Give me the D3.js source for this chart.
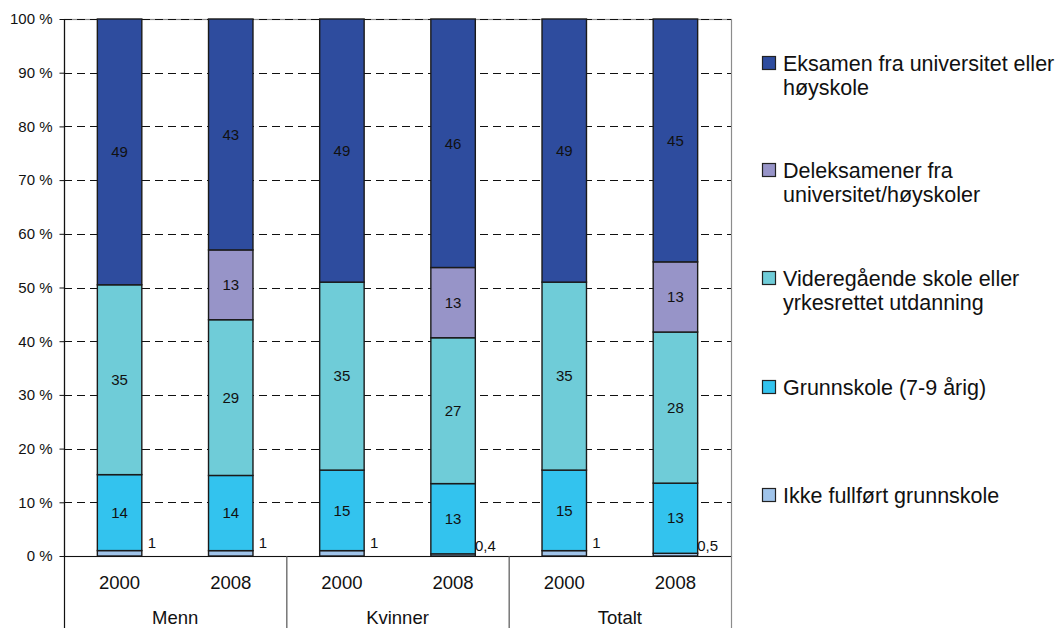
<!DOCTYPE html>
<html>
<head>
<meta charset="utf-8">
<script src="https://cdn.jsdelivr.net/npm/d3@7"></script>
<style>
  html, body { margin: 0; padding: 0; background: #fff; }
  svg { display: block; font-family: "Liberation Sans", Arial, sans-serif; }
</style>
</head>
<body>
<svg id="chart" width="1058" height="628"></svg>
<script>
// Groups and years along the category axis
const groups = ["Menn", "Kvinner", "Totalt"];
const years = ["2000", "2008"];

// Education level shares (per cent), one value per group/year bar
const ikkeFullfort  = [1, 1, 1, 0.4, 1, 0.5];
const grunnskole    = [14, 14, 15, 13, 15, 13];
const videregaende  = [35, 29, 35, 27, 35, 28];
const deleksamener  = [0, 13, 0, 13, 0, 13];
const eksamen       = [49, 43, 49, 46, 49, 45];

// Series names, stacking order bottom to top
const seriesNames = [
  "Ikke fullført grunnskole",
  "Grunnskole (7-9 årig)",
  "Videregående skole eller yrkesrettet utdanning",
  "Deleksamener fra universitet/høyskoler",
  "Eksamen fra universitet eller høyskole"
];
const legendLines = [
  ["Ikke fullført grunnskole"],
  ["Grunnskole (7-9 årig)"],
  ["Videregående skole eller", "yrkesrettet utdanning"],
  ["Deleksamener fra", "universitet/høyskoler"],
  ["Eksamen fra universitet eller", "høyskole"]
];
const seriesColors = ["#a0c4ea", "#33c3ee", "#6fccd8", "#9794c8", "#2e4c9e"];

const yTicks = [0, 10, 20, 30, 40, 50, 60, 70, 80, 90, 100];

const seriesValues = [ikkeFullfort, grunnskole, videregaende, deleksamener, eksamen];

// One row per bar
const rows = [];
groups.forEach((g, gi) => years.forEach((yr, yi) => {
  const i = gi * years.length + yi;
  const row = { key: g + "-" + yr, group: g, year: yr };
  seriesNames.forEach((s, si) => { row[s] = seriesValues[si][i]; });
  rows.push(row);
}));

const svg = d3.select("#chart");
const plot = { left: 64, right: 731, top: 19, bottom: 556 };

const x = d3.scaleBand()
  .domain(rows.map(d => d.key))
  .range([plot.left, plot.right])
  .paddingInner(0.6)
  .paddingOuter(0.3);

const y = d3.scaleLinear().domain([0, 1]).range([plot.bottom, plot.top]);

const stacked = d3.stack()
  .keys(seriesNames)
  .offset(d3.stackOffsetExpand)(rows);

// Plot frame
svg.append("rect")
  .attr("x", plot.left + 0.5).attr("y", plot.top + 0.5)
  .attr("width", plot.right - plot.left).attr("height", plot.bottom - plot.top)
  .attr("fill", "none").attr("stroke", "#8c8c8c").attr("stroke-width", 1.2);
svg.append("line")
  .attr("x1", plot.right + 0.5).attr("x2", plot.right + 0.5)
  .attr("y1", plot.bottom).attr("y2", 628)
  .attr("stroke", "#8c8c8c").attr("stroke-width", 1.2);

// Dashed gridlines
svg.append("g").selectAll("line")
  .data(yTicks.filter(t => t > 0))
  .join("line")
  .attr("x1", plot.left).attr("x2", plot.right)
  .attr("y1", d => Math.round(y(d / 100)) + 0.5)
  .attr("y2", d => Math.round(y(d / 100)) + 0.5)
  .attr("stroke", "#111")
  .attr("stroke-dasharray", "8,5");

// Stacked bars
const layer = svg.append("g").selectAll("g")
  .data(stacked)
  .join("g")
  .attr("fill", (d, i) => seriesColors[i]);

layer.selectAll("rect")
  .data(d => d.filter(p => p.data[d.key] > 0))
  .join("rect")
  .attr("x", p => x(p.data.key))
  .attr("width", x.bandwidth())
  .attr("y", p => y(p[1]))
  .attr("height", p => y(p[0]) - y(p[1]))
  .attr("stroke", "#1a1a1a")
  .attr("stroke-width", 1.4);

const fmt = v => String(v).replace(".", ",");

// Segment value labels (all series except the thin bottom one)
stacked.forEach((s, si) => {
  if (si === 0) return;
  svg.append("g").selectAll("text")
    .data(s.filter(p => p.data[s.key] > 0))
    .join("text")
    .attr("x", p => x(p.data.key) + x.bandwidth() / 2)
    .attr("y", p => (y(p[0]) + y(p[1])) / 2)
    .attr("dy", "0.35em")
    .attr("text-anchor", "middle")
    .attr("font-size", 15)
    .attr("fill", "#111")
    .text(p => fmt(p.data[s.key]));
});

// Bottom series labels placed beside the bar
svg.append("g").selectAll("text")
  .data(stacked[0])
  .join("text")
  .attr("x", p => x(p.data.key) + x.bandwidth() + 10)
  .attr("y", p => y(p[1]) - 8)
  .attr("dy", "0.35em")
  .attr("text-anchor", "middle")
  .attr("font-size", 15)
  .attr("fill", "#111")
  .text(p => fmt(p.data[stacked[0].key]));

// Y axis
const yAxis = svg.append("g")
  .attr("transform", `translate(${plot.left + 0.5},0)`)
  .call(d3.axisLeft(y)
    .tickValues(yTicks.map(t => t / 100))
    .tickSize(5)
    .tickPadding(7)
    .tickFormat(d => Math.round(d * 100) + " %"));
yAxis.select(".domain").attr("stroke", "#111").attr("stroke-width", 1.2)
  .attr("d", `M0,${plot.top}V628`);
yAxis.selectAll(".tick line").attr("stroke", "#111");
yAxis.selectAll(".tick text")
  .attr("font-size", 15)
  .attr("font-family", "Liberation Sans, Arial, sans-serif")
  .attr("fill", "#111");

// Baseline
svg.append("line")
  .attr("x1", plot.left).attr("x2", plot.right)
  .attr("y1", plot.bottom + 0.5).attr("y2", plot.bottom + 0.5)
  .attr("stroke", "#111").attr("stroke-width", 1.2);

// Year labels
svg.append("g").selectAll("text")
  .data(rows)
  .join("text")
  .attr("x", d => x(d.key) + x.bandwidth() / 2)
  .attr("y", 583)
  .attr("dy", "0.35em")
  .attr("text-anchor", "middle")
  .attr("font-size", 18.5)
  .attr("fill", "#111")
  .text(d => d.year);

// Group separators and labels
const step = x.step();
const groupStart = gi => plot.left + gi * years.length * step;
svg.append("g").selectAll("line")
  .data(d3.range(1, groups.length))
  .join("line")
  .attr("x1", gi => groupStart(gi) + 0.5)
  .attr("x2", gi => groupStart(gi) + 0.5)
  .attr("y1", plot.bottom).attr("y2", 628)
  .attr("stroke", "#555").attr("stroke-width", 1.2);

svg.append("g").selectAll("text")
  .data(groups)
  .join("text")
  .attr("x", (g, gi) => groupStart(gi) + years.length * step / 2)
  .attr("y", 624)
  .attr("text-anchor", "middle")
  .attr("font-size", 18.5)
  .attr("fill", "#111")
  .text(g => g);

// Legend (top entry is the top of the stack)
const legendTop = [63, 170, 278, 387, 495];
const legendData = seriesNames.map((s, i) => ({ name: s, color: seriesColors[i], lines: legendLines[i] })).reverse();
const legend = svg.append("g").selectAll("g")
  .data(legendData)
  .join("g")
  .attr("transform", (d, i) => `translate(762,${legendTop[i]})`);

legend.append("rect")
  .attr("x", 0.5).attr("y", -6.5)
  .attr("width", 13).attr("height", 13)
  .attr("fill", d => d.color)
  .attr("stroke", "#222").attr("stroke-width", 1.2);

legend.append("text")
  .attr("x", 21)
  .attr("font-size", 21.5)
  .attr("fill", "#111")
  .selectAll("tspan")
  .data(d => d.lines)
  .join("tspan")
  .attr("x", 21)
  .attr("y", (l, li) => li * 24.5)
  .attr("dy", "0.35em")
  .text(l => l);
</script>
</body>
</html>
